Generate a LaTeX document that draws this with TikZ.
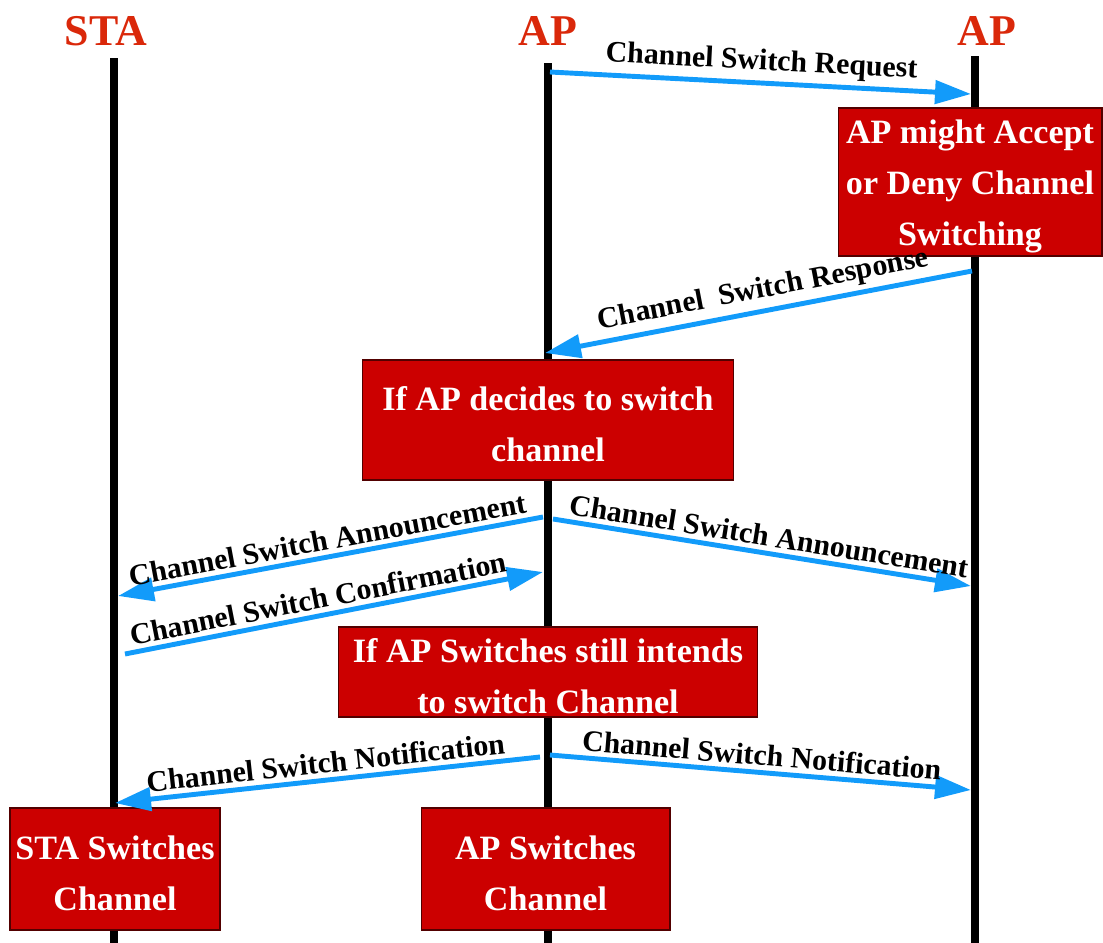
\documentclass[tikz,border=0pt]{standalone}
\usepackage{fontspec}
\setmainfont{Liberation Serif}
\usetikzlibrary{arrows.meta}
\definecolor{boxred}{RGB}{204,0,0}
\definecolor{titred}{RGB}{218,40,10}
\definecolor{msgblue}{RGB}{18,155,250}
\newcommand{\topgap}{\rule{0pt}{18.5pt}}
\tikzset{
    TT/.style ={text=titred, anchor=base, font=\fontsize{25}{30}\selectfont\bfseries},
    BX/.style ={rectangle, draw=black!60!boxred, line width=0.6pt, fill=boxred, text=white, align=center, inner sep=0pt,
        font=\fontsize{19.4}{29}\selectfont\bfseries},
    LL/.style ={line width=4pt},
    MS/.style ={msgblue, line width=2.8pt, -{Triangle[length=0.72cm,width=0.46cm]}},
    SU/.style ={midway, sloped, above, inner sep=2.5pt, text=black, font=\fontsize{17}{20}\selectfont\bfseries}}
\begin{document}
\begin{tikzpicture}[x=0.02cm, y=-0.02cm]
        \useasboundingbox (0,0) rectangle (1103,943);
        \node[TT] (t1) at (106,46){STA};
        \node[TT] (t2) at (548,46){AP};
        \node[TT] (t3) at (987,46){AP};
        \coordinate (l1) at (114,58);
        \coordinate (l2) at (548,63);
        \coordinate (l3) at (975,56);
        \draw[LL] (l1) -- (114,943);
        \draw[LL] (l2) -- (548,943);
        \draw[LL] (l3) -- (975,943);
        \node[BX, minimum width=5.28cm, minimum height=2.96cm] (b1) at (970,182){\topgap AP might Accept\\or Deny Channel\\Switching};
        \node[BX, minimum width=7.44cm, minimum height=2.4cm] (b2) at (548,420){\topgap If AP decides to switch\\channel};
        \node[BX, minimum width=8.4cm, minimum height=1.8cm] (b3) at (548,672){\topgap If AP Switches still intends\\to switch Channel};
        \node[BX, minimum width=4.2cm, minimum height=2.44cm] (b4) at (115,869){\topgap STA Switches\\Channel};
        \node[BX, minimum width=4.98cm, minimum height=2.44cm] (b5) at (545.5,869){\topgap AP Switches\\Channel};
        \coordinate (m1) at (550,72);
        \coordinate (m2) at (971,94);
        \coordinate (m3) at (972,271);
        \coordinate (m4) at (545,353);
        \coordinate (m5) at (543,517);
        \coordinate (m6) at (118,596);
        \coordinate (m7) at (553,519);
        \coordinate (m8) at (971,586);
        \coordinate (m9) at (125,654);
        \coordinate (m10) at (543,572);
        \coordinate (m11) at (540,757);
        \coordinate (m12) at (115,803);
        \coordinate (m13) at (550,755);
        \coordinate (m14) at (971,790);
        \draw[MS] (m1) -- (m2) node[SU]{Channel Switch Request};
        \draw[MS] (m3) -- (m4) node[SU, pos=0.48]{Channel\ \ Switch Response};
        \draw[MS] (m5) -- (m6) node[SU]{Channel Switch Announcement};
        \draw[MS] (m7) -- (m8) node[SU, pos=0.51]{Channel Switch Announcement};
        \draw[MS] (m9) -- (m10) node[SU, pos=0.47]{Channel Switch Confirmation};
        \draw[MS] (m11) -- (m12) node[SU]{Channel Switch Notification};
        \draw[MS] (m13) -- (m14) node[SU]{Channel Switch Notification};
    \end{tikzpicture}
\end{document}
